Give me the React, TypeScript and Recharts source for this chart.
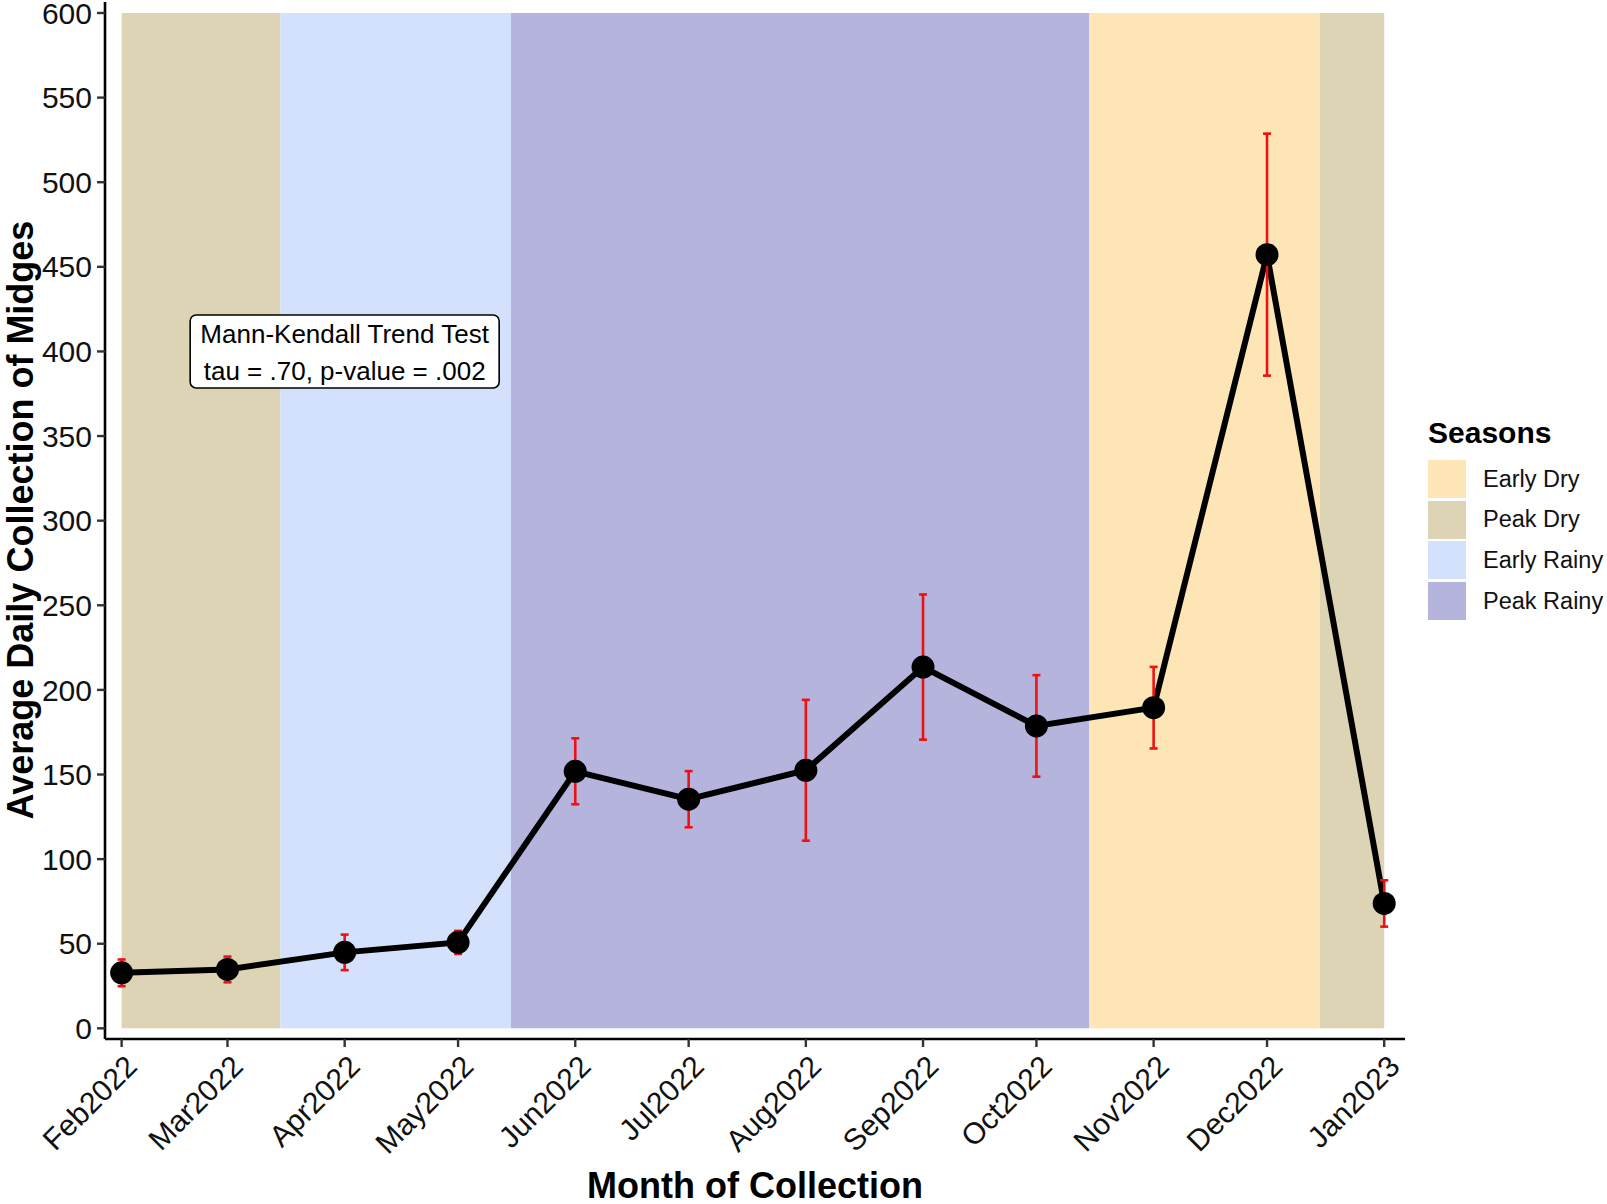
import React from 'react';
import {
  ComposedChart, Line, XAxis, YAxis, ReferenceArea, ReferenceDot, ErrorBar,
} from 'recharts';

// collection months (first of month) and their labels
const collectionDates = [
  '2022-02-01', '2022-03-01', '2022-04-01', '2022-05-01', '2022-06-01', '2022-07-01',
  '2022-08-01', '2022-09-01', '2022-10-01', '2022-11-01', '2022-12-01', '2023-01-01',
];
const monthLabels = [
  'Feb2022', 'Mar2022', 'Apr2022', 'May2022', 'Jun2022', 'Jul2022',
  'Aug2022', 'Sep2022', 'Oct2022', 'Nov2022', 'Dec2022', 'Jan2023',
];
const meanMidges = [32.8, 34.8, 44.9, 50.8, 151.9, 135.4, 152.5, 213.5, 178.7, 189.5, 457.2, 73.8];
const errMidges = [7.9, 7.6, 10.5, 6.8, 19.5, 16.6, 41.6, 42.9, 30.0, 24.1, 71.5, 13.7];

// season background bands
const bandSeason = ['Peak Dry', 'Early Rainy', 'Peak Rainy', 'Early Dry', 'Peak Dry'];
const bandStart = ['2022-02-01', '2022-03-15', '2022-05-15', '2022-10-15', '2022-12-15'];
const bandEnd = ['2022-03-15', '2022-05-15', '2022-10-15', '2022-12-15', '2023-01-01'];

const legendSeasons = ['Early Dry', 'Peak Dry', 'Early Rainy', 'Peak Rainy'];
const SEASON_COLORS: Record<string, string> = {
  'Early Dry': '#FDE5B6',
  'Peak Dry': '#DDD3B5',
  'Early Rainy': '#D3E1FC',
  'Peak Rainy': '#B4B4DD',
};

const yTicks = [0, 50, 100, 150, 200, 250, 300, 350, 400, 450, 500, 550, 600];

const DAY = 86400000;
const toT = (s: string) => Date.parse(s + 'T00:00:00Z');

const data = collectionDates.map((d, i) => ({
  t: toT(d),
  mean: meanMidges[i],
  err: errMidges[i],
}));
const monthTicks = collectionDates.map(toT);

const FONT = '"Liberation Sans", Arial, sans-serif';

const MonthTick = ({ x, y, payload }: any) => {
  const i = monthTicks.indexOf(payload.value);
  const ax = x + 2;
  const ay = y + 3;
  return (
    <text
      x={ax}
      y={ay}
      dy="0.72em"
      textAnchor="end"
      transform={`rotate(-45, ${ax}, ${ay})`}
      fontSize={30}
      fontFamily={FONT}
      fill="#111"
    >
      {monthLabels[i]}
    </text>
  );
};

const TrendBox = ({ cx, cy }: any) => (
  <g>
    <rect
      x={cx - 154.5} y={cy - 36.5} width={309} height={73} rx={6}
      fill="#fff" stroke="#000" strokeWidth={1.6}
    />
    <text x={cx} y={cy - 17} textAnchor="middle" dominantBaseline="central"
      fontSize={26} fontFamily={FONT} fill="#000">
      Mann-Kendall Trend Test
    </text>
    <text x={cx} y={cy + 20} textAnchor="middle" dominantBaseline="central"
      fontSize={26} fontFamily={FONT} fill="#000">
      tau = .70, p-value = .002
    </text>
  </g>
);

export default function App() {
  return (
    <div style={{ position: 'absolute', left: 0, top: 0, width: 1607, height: 1204, background: '#fff', fontFamily: FONT }}>
      <ComposedChart
        width={1607}
        height={1204}
        data={data}
        margin={{ top: 2, right: 202, bottom: 0, left: 0 }}
      >
        <XAxis
          dataKey="t"
          type="number"
          scale="linear"
          domain={[toT('2022-02-01') - 4.4 * DAY, toT('2023-01-01') + 5.5 * DAY]}
          ticks={monthTicks}
          tick={<MonthTick />}
          height={165}
          tickSize={8}
          tickMargin={3}
          interval={0}
          axisLine={{ stroke: '#000', strokeWidth: 2.6 }}
          tickLine={{ stroke: '#333', strokeWidth: 2.4 }}
        />
        <YAxis
          type="number"
          domain={[-6.3, 606.5]}
          ticks={yTicks}
          width={105}
          tickSize={8}
          tickMargin={5}
          interval={0}
          allowDataOverflow
          tick={{ fontSize: 30, fontFamily: FONT, fill: '#111' }}
          axisLine={{ stroke: '#000', strokeWidth: 2.6 }}
          tickLine={{ stroke: '#333', strokeWidth: 2.4 }}
        />
        {bandSeason.map((s, i) => (
          <ReferenceArea
            key={i}
            x1={toT(bandStart[i])}
            x2={toT(bandEnd[i])}
            y1={0}
            y2={600}
            fill={SEASON_COLORS[s]}
            fillOpacity={1}
            stroke="none"
          />
        ))}
        <Line
          dataKey="mean"
          stroke="#000"
          strokeWidth={6}
          dot={{ r: 11.5, fill: '#000', stroke: 'none' }}
          activeDot={false}
          isAnimationActive={false}
        />
        {/* error bars drawn over the points */}
        <Line
          dataKey="mean"
          stroke="none"
          dot={false}
          activeDot={false}
          isAnimationActive={false}
        >
          <ErrorBar dataKey="err" direction="y" width={4} stroke="#EE1111" strokeWidth={2.6} />
        </Line>
        <ReferenceDot x={toT('2022-04-01')} y={400} shape={<TrendBox />} />
      </ComposedChart>

      {/* axis titles */}
      <div style={{
        position: 'absolute', left: 755, top: 1186, transform: 'translate(-50%, -50%)',
        fontSize: 36, fontWeight: 700, whiteSpace: 'nowrap', color: '#000',
      }}>
        Month of Collection
      </div>
      <div style={{
        position: 'absolute', left: 21, top: 520, transform: 'translate(-50%, -50%) rotate(-90deg)',
        fontSize: 36, fontWeight: 700, whiteSpace: 'nowrap', color: '#000',
      }}>
        Average Daily Collection of Midges
      </div>

      {/* legend */}
      <div style={{ position: 'absolute', left: 1428, top: 414 }}>
        <div style={{ fontSize: 30, fontWeight: 700, lineHeight: '38px', marginBottom: 8, color: '#000' }}>Seasons</div>
        {legendSeasons.map((s) => (
          <div key={s} style={{ display: 'flex', alignItems: 'center', height: 38, marginBottom: 2.7 }}>
            <span style={{ width: 38, height: 38, background: SEASON_COLORS[s], display: 'inline-block' }} />
            <span style={{ marginLeft: 17, fontSize: 23.5, color: '#111', whiteSpace: 'nowrap' }}>{s}</span>
          </div>
        ))}
      </div>
    </div>
  );
}
